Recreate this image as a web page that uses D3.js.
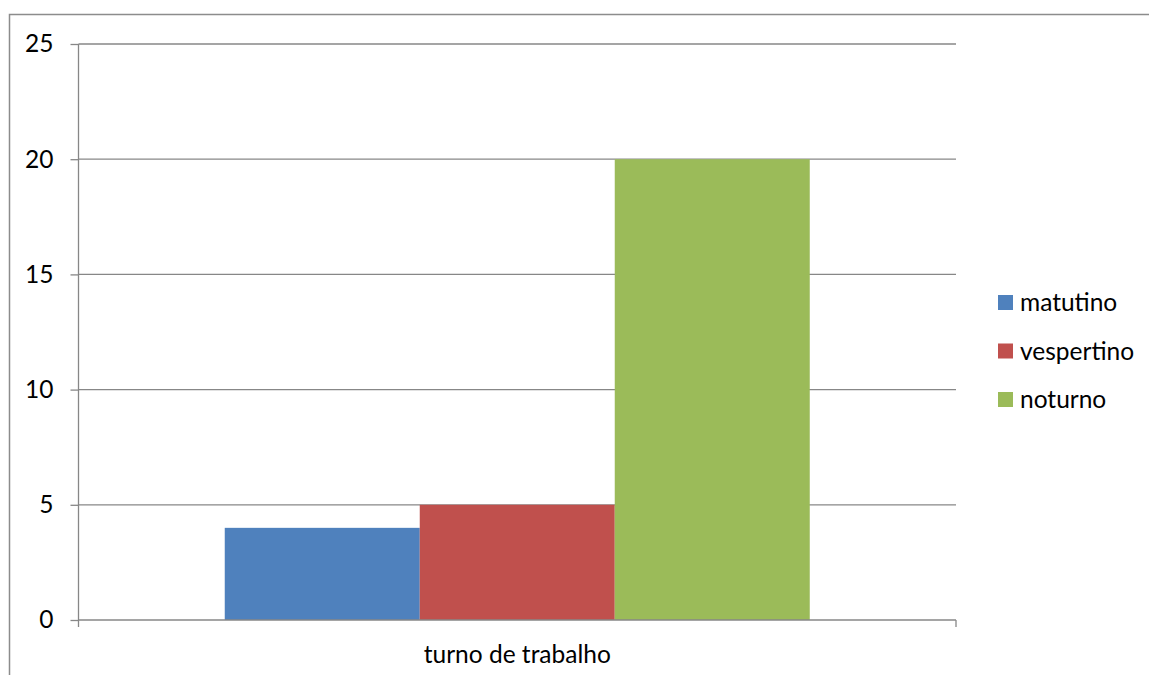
<!DOCTYPE html>
<html>
<head>
<meta charset="utf-8">
<script src="https://cdn.jsdelivr.net/npm/d3@7"></script>
<style>
  html, body { margin: 0; padding: 0; background: #fff; }
  svg { display: block; }
  text { font-family: Lato, "Open Sans", sans-serif; fill: #000; }
</style>
</head>
<body>
<svg id="chart" width="1149" height="675"></svg>
<script>
// Work shift counts
const categories = ["turno de trabalho"];
const seriesNames = ["matutino", "vespertino", "noturno"];
const seriesValues = [4, 5, 20];
const seriesColors = ["#4F81BD", "#C0504D", "#9BBB59"];
const yTicks = [0, 5, 10, 15, 20, 25];

const svg = d3.select("#chart");
const W = 1149, H = 675;
const margin = { left: 78.5, right: 193, top: 44, bottom: 55 };
const plotW = W - margin.left - margin.right;
const plotH = 620 - margin.top;
const gridColor = "#878787";
const fontSize = 24.5;

// Outer chart frame
svg.append("rect")
  .attr("x", 9.5).attr("y", 14.5)
  .attr("width", W).attr("height", H)
  .attr("fill", "none").attr("stroke", "#8c8c8c").attr("stroke-width", 1.5);

const g = svg.append("g").attr("transform", `translate(${margin.left},${margin.top})`);

const y = d3.scaleLinear().domain([0, 25]).range([plotH, 0]);
const x0 = d3.scaleBand().domain(categories).range([0, plotW]);
// Gap width of 150% of a bar on each side of the group
const x1 = d3.scaleBand().domain(seriesNames)
  .range([0, x0.bandwidth()]).paddingOuter(0.75).paddingInner(0);

// Horizontal gridlines
g.append("g").selectAll("line").data(yTicks.filter(d => d > 0)).join("line")
  .attr("x1", 0).attr("x2", plotW)
  .attr("y1", d => y(d)).attr("y2", d => y(d))
  .attr("stroke", gridColor).attr("stroke-width", 1.3);

// Bars
const grp = g.selectAll(".grp").data(categories).join("g")
  .attr("transform", d => `translate(${x0(d)},0)`);
grp.selectAll("rect").data(seriesNames.map((n, i) => ({ n, v: seriesValues[i], c: seriesColors[i] })))
  .join("rect")
  .attr("x", d => x1(d.n))
  .attr("width", x1.bandwidth())
  .attr("y", d => y(d.v))
  .attr("height", d => plotH - y(d.v))
  .attr("fill", d => d.c);

// Y axis
const yAxis = g.append("g").call(
  d3.axisLeft(y).tickValues(yTicks).tickSize(8).tickPadding(17).tickFormat(d3.format("d"))
);
yAxis.select(".domain").attr("stroke", gridColor).attr("stroke-width", 1.3).attr("d", `M0,${plotH}V0`);
yAxis.selectAll(".tick line").attr("stroke", gridColor).attr("stroke-width", 1.3);
yAxis.selectAll(".tick text").attr("font-size", fontSize).attr("font-family", "Lato").attr("fill", "#000");

// X axis
const xAxis = g.append("g").attr("transform", `translate(0,${plotH})`).call(
  d3.axisBottom(x0).tickSize(0).tickPadding(26)
);
xAxis.select(".domain").attr("stroke", gridColor).attr("stroke-width", 1.3).attr("d", `M0,0H${plotW}`);
xAxis.selectAll(".tick text").attr("font-size", fontSize).attr("font-family", "Lato").attr("fill", "#000");
// Boundary tick marks at both ends of the category axis
g.append("g").selectAll("line").data([0, plotW]).join("line")
  .attr("x1", d => d).attr("x2", d => d)
  .attr("y1", plotH).attr("y2", plotH + 7)
  .attr("stroke", gridColor).attr("stroke-width", 1.3);

// Legend
const legend = svg.append("g").attr("transform", "translate(998,295)");
const items = legend.selectAll("g").data(seriesNames).join("g")
  .attr("transform", (d, i) => `translate(0,${i * 48.5})`);
items.append("rect").attr("width", 15).attr("height", 15)
  .attr("fill", (d, i) => seriesColors[i]);
items.append("text").attr("x", 22).attr("y", 7.5).attr("dy", "0.35em")
  .attr("font-size", fontSize).text(d => d);
</script>
</body>
</html>
